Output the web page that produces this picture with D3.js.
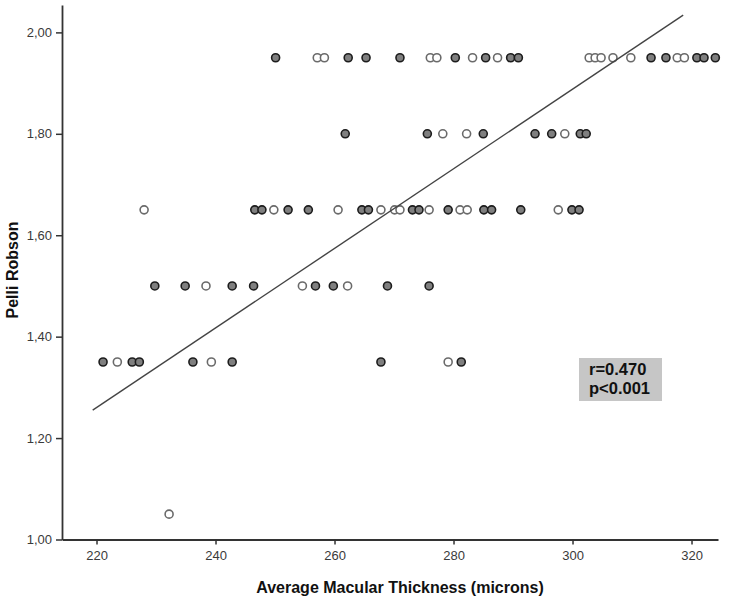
<!DOCTYPE html>
<html>
<head>
<meta charset="utf-8">
<script src="https://cdn.jsdelivr.net/npm/d3@7"></script>
<style>
  body { margin: 0; background: #fff; }
  svg { display: block; font-family: "Liberation Sans", Arial, sans-serif; }
</style>
</head>
<body>
<svg id="chart" width="736" height="598"></svg>
<script>
// data: [thickness, pelli robson]
var filledPoints = [
  [250.1,1.95],[262.3,1.95],[265.3,1.95],[271.0,1.95],[280.3,1.95],[285.4,1.95],
  [289.6,1.95],[290.9,1.95],[313.2,1.95],[315.7,1.95],[320.9,1.95],[322.1,1.95],[324.0,1.95],
  [261.8,1.80],[275.6,1.80],[285.0,1.80],[293.7,1.80],[296.5,1.80],[301.3,1.80],[302.3,1.80],
  [246.6,1.65],[247.8,1.65],[252.2,1.65],[255.6,1.65],[264.6,1.65],[265.7,1.65],[273.1,1.65],
  [274.2,1.65],[279.1,1.65],[285.1,1.65],[286.4,1.65],[291.3,1.65],[299.9,1.65],[301.1,1.65],
  [229.8,1.50],[234.9,1.50],[242.8,1.50],[246.4,1.50],[256.8,1.50],[259.8,1.50],[268.9,1.50],[275.9,1.50],
  [221.1,1.35],[226.0,1.35],[227.2,1.35],[236.2,1.35],[242.8,1.35],[267.8,1.35],[281.3,1.35]
];
var openPoints = [
  [257.1,1.95],[258.3,1.95],[276.1,1.95],[277.2,1.95],[283.2,1.95],[287.4,1.95],[302.8,1.95],
  [303.8,1.95],[304.8,1.95],[306.8,1.95],[309.8,1.95],[317.6,1.95],[318.8,1.95],
  [278.2,1.80],[282.2,1.80],[298.7,1.80],
  [228.0,1.65],[249.8,1.65],[260.6,1.65],[267.8,1.65],[270.1,1.65],[271.0,1.65],[275.9,1.65],
  [281.1,1.65],[282.3,1.65],[297.6,1.65],
  [238.4,1.50],[254.6,1.50],[262.2,1.50],
  [223.5,1.35],[239.3,1.35],[279.1,1.35],
  [232.2,1.05]
];
var fitLine = [[219.36,1.255],[318.6,2.034]];
var xTicks = [220,240,260,280,300,320];
var yTicks = [1.0,1.2,1.4,1.6,1.8,2.0];
var statLines = ["r=0.470","p<0.001"];

var margin = {top: 5, right: 18, bottom: 58.5, left: 62};
var w = 736, h = 598;

var svg = d3.select("#chart");

var xScale = d3.scaleLinear()
    .domain([214.2, 324.45])
    .range([margin.left, w - margin.right]);
var yScale = d3.scaleLinear()
    .domain([1.0, 2.054])
    .range([h - margin.bottom, margin.top]);

var xAxis = d3.axisBottom(xScale).tickValues(xTicks).tickSize(5).tickSizeOuter(0)
    .tickPadding(6).tickFormat(d3.format("d"));
var yAxis = d3.axisLeft(yScale).tickValues(yTicks).tickSize(6).tickSizeOuter(0)
    .tickPadding(4).tickFormat(function(d) { return d3.format(".2f")(d).replace(".", ","); });

//points, filled then open, left to right
var all = filledPoints.map(function(p) { return {x: p[0], y: p[1], f: true}; })
    .concat(openPoints.map(function(p) { return {x: p[0], y: p[1], f: false}; }))
    .sort(function(a, b) { return a.x - b.x; });

svg.selectAll("circle")
    .data(all)
    .enter()
    .append("circle")
    .attr("cx", function(d) { return xScale(d.x); })
    .attr("cy", function(d) { return yScale(d.y); })
    .attr("r", 4)
    .attr("fill", function(d) { return d.f ? "#7f7f7f" : "#fff"; })
    .attr("stroke", function(d) { return d.f ? "#1c1c1c" : "#6a6a6a"; })
    .attr("stroke-width", 1.6);

//fit line
svg.append("line")
    .attr("x1", xScale(fitLine[0][0]))
    .attr("y1", yScale(fitLine[0][1]))
    .attr("x2", xScale(fitLine[1][0]))
    .attr("y2", yScale(fitLine[1][1]))
    .attr("stroke", "#444")
    .attr("stroke-width", 1.4);

//axes
var gx = svg.append("g")
    .attr("class", "x axis")
    .attr("transform", "translate(0," + (h - margin.bottom) + ")")
    .call(xAxis);
var gy = svg.append("g")
    .attr("class", "y axis")
    .attr("transform", "translate(" + margin.left + ",0)")
    .call(yAxis);

[gx, gy].forEach(function(g) {
    g.attr("font-size", "13px").attr("font-family", "Liberation Sans, Arial, sans-serif");
    g.select(".domain").attr("stroke", "#333").attr("stroke-width", 1.8);
    g.selectAll(".tick line").attr("stroke", "#333").attr("stroke-width", 1.5);
    g.selectAll(".tick text").attr("fill", "#3a3a3a");
});

//axis titles
svg.append("text")
    .attr("x", 400)
    .attr("y", 593)
    .attr("text-anchor", "middle")
    .attr("font-size", "16px")
    .attr("font-weight", "bold")
    .attr("fill", "#111")
    .text("Average Macular Thickness (microns)");

svg.append("text")
    .attr("transform", "translate(18,270) rotate(-90)")
    .attr("text-anchor", "middle")
    .attr("font-size", "16px")
    .attr("font-weight", "bold")
    .attr("fill", "#111")
    .text("Pelli Robson");

//stats box
svg.append("rect")
    .attr("x", 579)
    .attr("y", 358)
    .attr("width", 83)
    .attr("height", 43)
    .attr("fill", "#c6c6c6");

svg.selectAll(".stat")
    .data(statLines)
    .enter()
    .append("text")
    .attr("class", "stat")
    .attr("x", 589)
    .attr("y", function(d, i) { return 375 + i * 19; })
    .attr("font-size", "16.5px")
    .attr("font-weight", "bold")
    .attr("fill", "#111")
    .text(function(d) { return d; });
</script>
</body>
</html>
